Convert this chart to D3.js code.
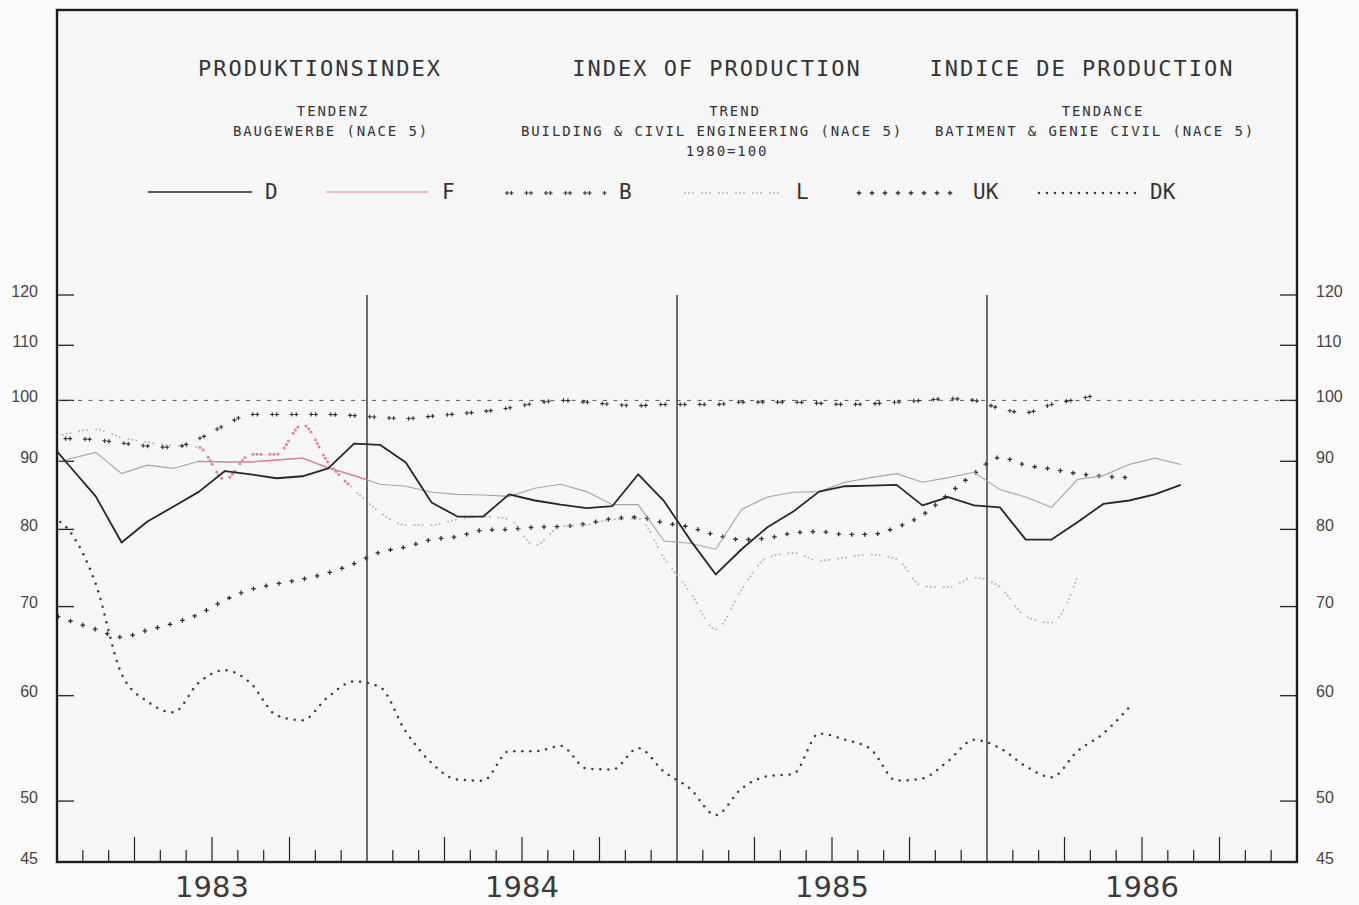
<!DOCTYPE html>
<html>
<head>
<meta charset="utf-8">
<script src="https://cdn.jsdelivr.net/npm/d3@7"></script>
<style>
    body { margin: 0; background: #fafafa; }
    svg { display: block; }
    .mono { font-family: "DejaVu Sans Mono", monospace; fill: #333; }
</style>
</head>
<body>
<div id="chart"></div>
<script>
// monthly trend values, first value = December 1982, plotted at mid-month
var firstMonth = -1;

var seriesD = [94.0, 89.2, 84.7, 78.2, 81.1, 83.2, 85.4, 88.5, 88.0, 87.4, 87.7, 88.9,
    92.8, 92.6, 89.8, 83.8, 81.8, 81.8, 85.0, 84.1, 83.5, 83.0, 83.3, 88.0,
    84.0, 78.6, 74.0, 77.3, 80.3, 82.5, 85.4, 86.2, 86.3, 86.4, 83.4, 84.6,
    83.4, 83.1, 78.6, 78.6, 81.0, 83.6, 84.1, 85.0, 86.4];
var seriesF = [89.5, 90.4, 91.4, 88.1, 89.4, 88.9, 90.0, 89.9, 89.9, 90.2, 90.5, 89.0,
    87.8, 86.5, 86.2, 85.3, 85.0, 84.9, 84.7, 85.9, 86.5, 85.4, 83.5, 83.5,
    78.4, 78.1, 77.3, 82.8, 84.6, 85.3, 85.4, 86.8, 87.5, 88.1, 86.8, 87.5,
    88.3, 85.7, 84.6, 83.1, 87.2, 87.8, 89.5, 90.5, 89.5];
var seriesB = [93.6, 93.6, 93.4, 92.9, 92.4, 92.2, 93.6, 95.8, 97.6, 97.6, 97.6, 97.6,
    97.4, 97.1, 96.9, 97.3, 97.7, 98.1, 98.7, 99.5, 100.0, 99.7, 99.3, 99.1,
    99.3, 99.3, 99.3, 99.7, 99.7, 99.7, 99.5, 99.3, 99.4, 99.7, 100.0, 100.3,
    100.0, 98.6, 97.9, 99.3, 100.2, 101.2];
var seriesL = [93.5, 94.5, 95.1, 93.8, 93.0, 92.5, 92.2, 87.2, 91.1, 91.1, 95.9, 89.8,
    85.7, 82.4, 80.6, 80.6, 81.4, 81.8, 81.4, 77.8, 80.4, 80.6, 81.4, 81.5,
    76.1, 71.8, 67.3, 72.1, 76.2, 76.8, 75.8, 76.2, 76.6, 76.0, 72.5, 72.4,
    73.6, 72.4, 68.8, 68.1, 73.6];
var seriesUK = [69.4, 68.3, 67.3, 66.4, 67.2, 68.0, 69.1, 70.8, 72.1, 72.8, 73.4, 74.2,
    75.4, 76.9, 77.6, 78.6, 79.0, 79.9, 80.0, 80.3, 80.4, 80.8, 81.5, 81.7,
    80.9, 80.3, 79.2, 78.6, 78.8, 79.5, 79.7, 79.3, 79.3, 80.3, 82.0, 85.0,
    88.1, 90.6, 89.4, 88.8, 88.1, 87.7, 87.5];
var seriesDK = [82.1, 79.7, 72.8, 62.3, 59.4, 58.3, 61.4, 62.7, 61.3, 58.0, 57.5, 59.9,
    61.5, 60.9, 56.4, 53.4, 51.9, 51.8, 54.5, 54.5, 55.0, 52.9, 52.8, 54.8,
    52.6, 51.1, 48.8, 51.1, 52.2, 52.4, 56.2, 55.6, 54.7, 51.8, 52.0, 53.6,
    55.6, 54.8, 53.1, 52.1, 54.5, 56.2, 58.8];

// the pink pen only shows on part of F and L (decimal years)
var pinkF = [1983 + 5.45 / 12, 1984.0];
var pinkL = [1983 + 5.45 / 12, 1983 + 11.35 / 12];

var yTicks = [120, 110, 100, 90, 80, 70, 60, 50, 45];
var years = [1983, 1984, 1985, 1986];

var titles = [
    { text: "PRODUKTIONSINDEX", x: 320 },
    { text: "INDEX OF PRODUCTION", x: 717 },
    { text: "INDICE DE PRODUCTION", x: 1082 },
];
var subtitles = [
    { text: "TENDENZ", x: 333, line: 0 },
    { text: "BAUGEWERBE (NACE 5)", x: 331, line: 1 },
    { text: "TREND", x: 735, line: 0 },
    { text: "BUILDING & CIVIL ENGINEERING (NACE 5)", x: 712, line: 1 },
    { text: "1980=100", x: 727, line: 2 },
    { text: "TENDANCE", x: 1103, line: 0 },
    { text: "BATIMENT & GENIE CIVIL (NACE 5)", x: 1095, line: 1 },
];

var W = 1359, H = 905;
var frameL = 57, frameR = 1297, frameT = 10, frameB = 862;

var svg = d3.select("#chart").append("svg").attr("width", W).attr("height", H);

var x = d3.scaleLinear().domain([1983, 1987]).range([frameL, frameR]);
var y = d3.scaleLog().domain([45, 120]).range([frameB, 295]);

var monthPos = (i) => 1983 + (firstMonth + i + 0.5) / 12;
var toPoints = (arr) => arr.map((v, i) => ({ t: monthPos(i), v: v }));

svg.append("rect")
    .attr("x", frameL).attr("y", frameT)
    .attr("width", frameR - frameL).attr("height", frameB - frameT)
    .attr("fill", "#f6f6f6");

svg.append("clipPath").attr("id", "plot")
    .append("rect")
    .attr("x", frameL).attr("y", frameT)
    .attr("width", frameR - frameL).attr("height", frameB - frameT);

// titles
svg.selectAll(".title").data(titles).enter().append("text")
    .attr("class", "mono")
    .attr("x", (d) => d.x).attr("y", 76)
    .attr("text-anchor", "middle")
    .style("font-size", "22px").style("letter-spacing", "2px")
    .text((d) => d.text);
svg.selectAll(".subtitle").data(subtitles).enter().append("text")
    .attr("class", "mono")
    .attr("x", (d) => d.x).attr("y", (d) => 116 + d.line * 20)
    .attr("text-anchor", "middle")
    .style("font-size", "14px").style("letter-spacing", "1.9px")
    .text((d) => d.text);

// y axis ticks and labels, both sides
var axisG = svg.append("g");
yTicks.forEach((v) => {
    if (v !== 45) {
        axisG.append("line").attr("x1", frameL).attr("x2", frameL + 17)
            .attr("y1", y(v)).attr("y2", y(v)).attr("stroke", "#222").attr("stroke-width", 1.3);
        axisG.append("line").attr("x1", frameR - 17).attr("x2", frameR)
            .attr("y1", y(v)).attr("y2", y(v)).attr("stroke", "#222").attr("stroke-width", 1.3);
    }
    [[38, "end"], [1316, "start"]].forEach((p) => {
        axisG.append("text")
            .attr("x", p[0]).attr("y", y(v) + 1.5)
            .attr("text-anchor", p[1])
            .style("font-family", "Liberation Sans, sans-serif")
            .style("font-size", "16px").style("fill", "#444")
            .text(v);
    });
});

// month ticks along the bottom, longer at quarters
d3.range(1, 48).forEach((k) => {
    if (k % 12 === 0) return;
    var len = k % 3 === 0 ? 25 : 12;
    axisG.append("line")
        .attr("x1", x(1983 + k / 12)).attr("x2", x(1983 + k / 12))
        .attr("y1", frameB).attr("y2", frameB - len)
        .attr("stroke", "#222").attr("stroke-width", 1.2);
});
// year boundaries
years.slice(1).forEach((yr) => {
    axisG.append("line")
        .attr("x1", x(yr)).attr("x2", x(yr))
        .attr("y1", y(120)).attr("y2", frameB)
        .attr("stroke", "#222").attr("stroke-width", 1.3);
});
svg.selectAll(".year").data(years).enter().append("text")
    .attr("x", (d) => x(d + 0.5)).attr("y", 897)
    .attr("text-anchor", "middle")
    .style("font-family", "DejaVu Sans, sans-serif")
    .style("font-size", "29px").style("fill", "#3a3a3a")
    .text((d) => d);

// 1980 = 100 reference
svg.append("line")
    .attr("x1", frameL).attr("x2", frameR).attr("y1", y(100)).attr("y2", y(100))
    .attr("stroke", "#555").attr("stroke-width", 1).attr("stroke-dasharray", "4,6.5");

var plot = svg.append("g").attr("clip-path", "url(#plot)");

var straight = d3.line().x((d) => x(d.t)).y((d) => y(d.v));
var smooth = d3.line().curve(d3.curveMonotoneX).x((d) => x(d.t)).y((d) => y(d.v));

// marker styles for the plotter's dotted pens
var styles = {
    B: { shape: "cross", size: 2.1, width: 1.1, color: "#2e2e2e", step: 19.5, offsets: [0, 4.5] },
    UK: { shape: "cross", size: 2.3, width: 1.3, color: "#2e2e2e", step: 13, offsets: [0] },
    DK: { shape: "dot", size: 1.25, color: "#3a3a3a", step: 8, offsets: [0] },
    L: { shape: "dot", size: 1.0, color: "#b4b4b4", step: 17, offsets: [0, 4, 8] },
};

function drawMarks(g, node, style, colorAt) {
    var len = node.getTotalLength();
    for (var s = 2; s <= len; s += style.step) {
        style.offsets.forEach((o) => {
            if (s + o > len) return;
            var p = node.getPointAtLength(s + o);
            if (p.x < frameL) return;
            var c = colorAt ? colorAt(p.x) : style.color;
            var r = c === pinkColor ? style.size * 1.5 : style.size;
            if (style.shape === "cross") {
                g.append("path")
                    .attr("d", "M" + (p.x - r) + "," + p.y + "h" + 2 * r +
                        "M" + p.x + "," + (p.y - r) + "v" + 2 * r)
                    .attr("stroke", c).attr("stroke-width", style.width);
            } else {
                g.append("circle").attr("cx", p.x).attr("cy", p.y).attr("r", r).attr("fill", c);
            }
        });
    }
}

function dotted(data, name, colorAt) {
    var path = plot.append("path").attr("d", smooth(toPoints(data)))
        .attr("fill", "none").attr("stroke", "none");
    drawMarks(plot, path.node(), styles[name], colorAt);
}

var pinkColor = "#e57f99";
dotted(seriesDK, "DK");
dotted(seriesUK, "UK");
dotted(seriesL, "L", (px) => (px >= x(pinkL[0]) && px <= x(pinkL[1]) ? pinkColor : styles.L.color));
dotted(seriesB, "B");

// F: thin grey line, pink where the pink pen shows
plot.append("path").attr("d", straight(toPoints(seriesF)))
    .attr("fill", "none").attr("stroke", "#a3a3a3").attr("stroke-width", 1.1);
svg.append("clipPath").attr("id", "pinkF").append("rect")
    .attr("x", x(pinkF[0])).attr("y", frameT)
    .attr("width", x(pinkF[1]) - x(pinkF[0])).attr("height", frameB - frameT);
plot.append("g").attr("clip-path", "url(#pinkF)")
    .append("path").attr("d", straight(toPoints(seriesF)))
    .attr("fill", "none").attr("stroke", pinkColor).attr("stroke-width", 1.3);

// D: solid black
plot.append("path").attr("d", straight(toPoints(seriesD)))
    .attr("fill", "none").attr("stroke", "#262626").attr("stroke-width", 1.8)
    .attr("stroke-linejoin", "round");

// legend
var legendRows = [
    { name: "D", from: 148, to: 252, label: 265 },
    { name: "F", from: 326, to: 428, label: 442 },
    { name: "B", from: 505, to: 607, label: 619 },
    { name: "L", from: 683, to: 785, label: 796 },
    { name: "UK", from: 857, to: 953, label: 973 },
    { name: "DK", from: 1037, to: 1140, label: 1150 },
];
var legend = svg.append("g");
legendRows.forEach((r) => {
    if (r.name === "D" || r.name === "F") {
        legend.append("line").attr("x1", r.from).attr("x2", r.to).attr("y1", 192).attr("y2", 192)
            .attr("stroke", r.name === "D" ? "#262626" : pinkColor)
            .attr("stroke-width", r.name === "D" ? 1.5 : 1.2);
    } else {
        var p = legend.append("path").attr("d", "M" + r.from + ",193H" + r.to)
            .attr("fill", "none").attr("stroke", "none");
        drawMarks(legend, p.node(), styles[r.name]);
    }
    legend.append("text").attr("class", "mono")
        .attr("x", r.label).attr("y", 199)
        .style("font-size", "21px")
        .text(r.name);
});

// frame
svg.append("rect")
    .attr("x", frameL).attr("y", frameT)
    .attr("width", frameR - frameL).attr("height", frameB - frameT)
    .attr("fill", "none").attr("stroke", "#1e1e1e").attr("stroke-width", 2.4);
</script>
</body>
</html>
